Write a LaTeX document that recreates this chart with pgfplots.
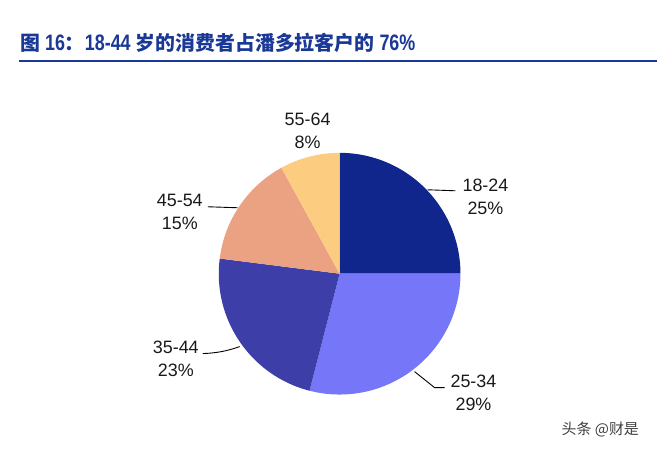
\documentclass[border=0pt]{standalone}
\usepackage{fontspec}
\setmainfont{Liberation Sans}
\newfontfamily\cjk{Noto Sans CJK SC}
\newfontfamily\narrowsans[FakeStretch=0.8]{Liberation Sans}
\usepackage{pgfplots}
\usepackage{pgfplotstable}
\pgfplotsset{compat=1.18}

\definecolor{s0}{RGB}{16,38,140}
\definecolor{s1}{RGB}{118,118,248}
\definecolor{s2}{RGB}{62,62,168}
\definecolor{s3}{RGB}{234,162,130}
\definecolor{s4}{RGB}{252,204,128}
\definecolor{titleblue}{RGB}{26,56,150}

\pgfplotstableread{
label pct
18-24 25
25-34 29
35-44 23
45-54 15
55-64 8
}\piedata

\xdef\piecur{90}
\foreach \i in {0,...,4}{%
  \pgfplotstablegetelem{\i}{pct}\of\piedata
  \pgfmathsetmacro\pieend{\piecur-3.6*\pgfplotsretval}%
  \expandafter\xdef\csname pieS\i\endcsname{\piecur}%
  \expandafter\xdef\csname pieE\i\endcsname{\pieend}%
  \xdef\piecur{\pieend}%
}

\newcommand\tc[1]{{\cjk\fontsize{20}{22}\selectfont #1}}
\newcommand\td[1]{{\narrowsans\fontsize{22.5}{22}\selectfont #1}}

\begin{document}
\begin{tikzpicture}
\begin{axis}[
  x=1bp, y=1bp, y dir=reverse,
  xmin=0, xmax=658, ymin=0, ymax=450,
  hide axis, clip=false,
]
\path (axis cs:0,0) (axis cs:658,450);
\pgfplotsinvokeforeach{0,...,4}{
  \fill[s#1] (axis cs:340,274) -- ++(\csname pieS#1\endcsname:121bp)
     arc[start angle=\csname pieS#1\endcsname, end angle=\csname pieE#1\endcsname, radius=121bp] -- cycle;
}
% title
\node[anchor=base west, inner sep=0pt, text=titleblue] at (axis cs:20,51)
  {\bfseries\tc{图}\hspace{5bp}\td{16}\tc{：}\td{18-44}\hspace{5bp}\tc{岁的消费者占潘多拉客户的}\hspace{5bp}\td{76\%}};
\draw[titleblue, line width=1.5bp] (axis cs:19,61) -- (axis cs:658,61);
% leader lines
\draw[black, line width=0.9bp] (axis cs:428,190) -- (axis cs:456,191);
\draw[black, line width=0.9bp] (axis cs:415,372) -- (axis cs:435,388) -- (axis cs:445,388);
\draw[black, line width=0.9bp] (axis cs:240,347) to[bend left=8] (axis cs:203,354);
\draw[black, line width=0.9bp] (axis cs:238,208) -- (axis cs:208,207);
% labels
\tikzset{lab/.style={align=center, inner sep=0pt, font=\fontsize{18}{23}\selectfont, text=black!90}}
\node[lab] at (axis cs:486,197) {18-24\\25\%};
\node[lab] at (axis cs:474,393) {25-34\\29\%};
\node[lab] at (axis cs:176,359) {35-44\\23\%};
\node[lab] at (axis cs:180,212) {45-54\\15\%};
\node[lab] at (axis cs:308,131) {55-64\\8\%};
% watermark
\node[inner sep=0pt, text=black!75] at (axis cs:601,430) {\cjk\fontsize{15}{18}\selectfont 头条 @财是};
\end{axis}
\end{tikzpicture}
\end{document}
